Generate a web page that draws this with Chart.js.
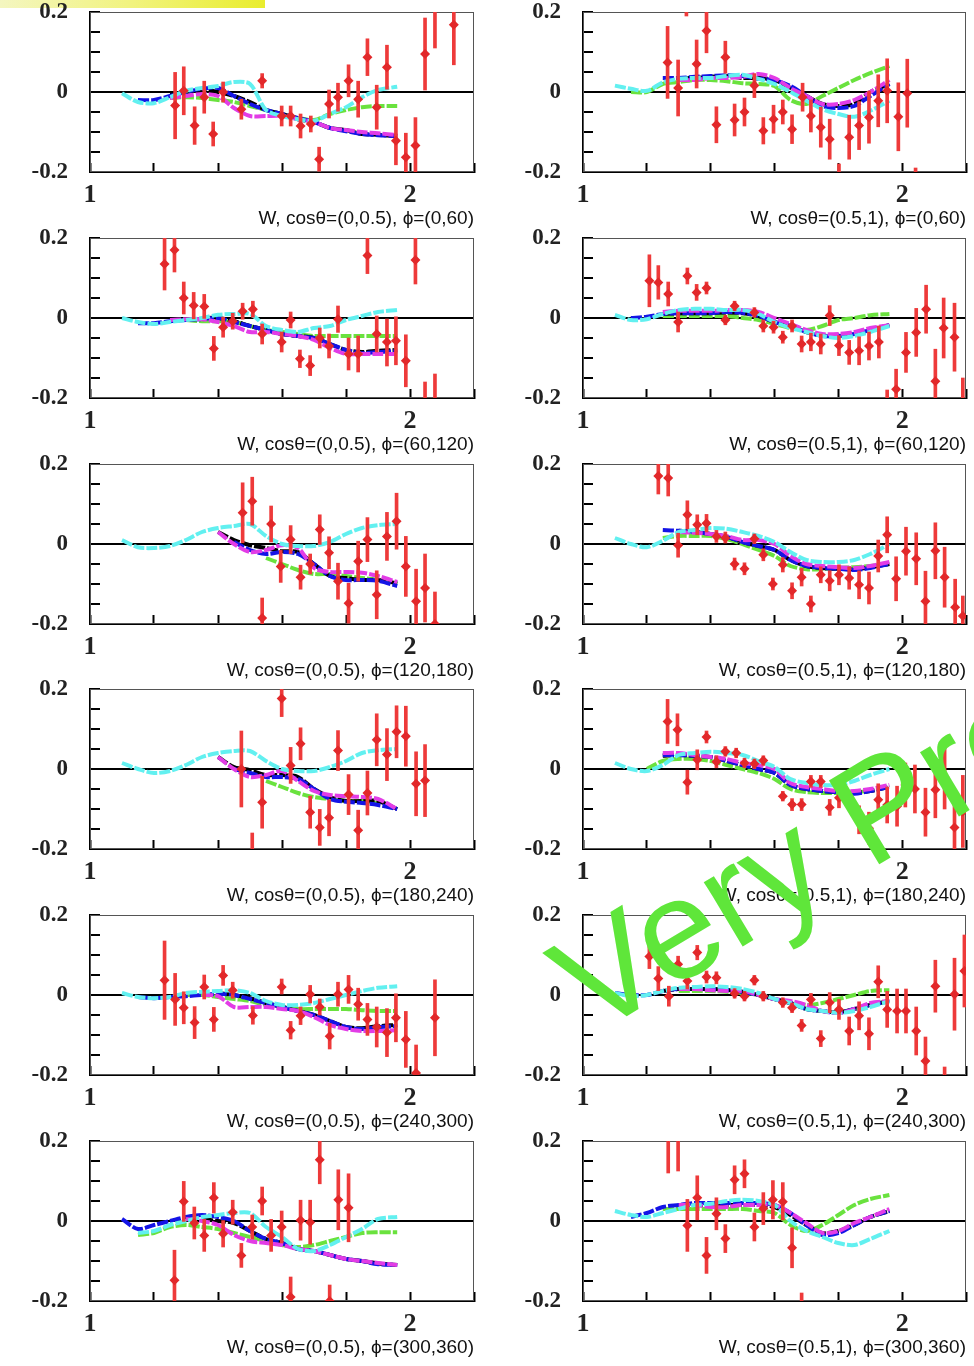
<!DOCTYPE html>
<html>
<head>
<meta charset="utf-8">
<script src="https://cdn.jsdelivr.net/npm/chart.js@4.4.1/dist/chart.umd.min.js"></script>
<style>
  html, body { margin: 0; padding: 0; background: #fff; }
  body { width: 974px; height: 1366px; position: relative; overflow: hidden; }
  .panel { position: absolute; }
  #topbar {
    position: absolute; left: 0; top: 0; width: 265px; height: 8px;
    background: linear-gradient(to right, #f4f6c0 0%, #f1f37e 50%, #e9ed2e 100%);
  }
  #overlay { position: absolute; left: 0; top: 0; pointer-events: none; }
</style>
</head>
<body>
<div id="topbar"></div>
<div id="panels"></div>
<svg id="overlay" width="974" height="1366">
  <text x="592" y="1037" transform="rotate(-31 592 1037)" font-family="Liberation Sans, Arial, sans-serif"
        font-size="142" fill="#5fe63a">Very Preliminary</text>
</svg>
<script>
const W_GRID = [1.10, 1.15, 1.20, 1.25, 1.30, 1.35, 1.40, 1.45, 1.50, 1.55, 1.60, 1.65, 1.70, 1.75, 1.80, 1.85, 1.90, 1.96];

const panelTitles = [
  'W, cosθ=(0,0.5), ϕ=(0,60)',    'W, cosθ=(0.5,1), ϕ=(0,60)',
  'W, cosθ=(0,0.5), ϕ=(60,120)',  'W, cosθ=(0.5,1), ϕ=(60,120)',
  'W, cosθ=(0,0.5), ϕ=(120,180)', 'W, cosθ=(0.5,1), ϕ=(120,180)',
  'W, cosθ=(0,0.5), ϕ=(180,240)', 'W, cosθ=(0.5,1), ϕ=(180,240)',
  'W, cosθ=(0,0.5), ϕ=(240,300)', 'W, cosθ=(0.5,1), ϕ=(240,300)',
  'W, cosθ=(0,0.5), ϕ=(300,360)', 'W, cosθ=(0.5,1), ϕ=(300,360)'
];

// measured points: W, value, error
const dataW = [
  [1.266,1.293,1.327,1.357,1.385,1.416,1.473,1.538,1.599,1.627,1.658,1.69,1.716,1.747,1.775,1.808,1.838,1.867,1.896,1.928,1.956,1.987,2.017,2.047,2.078,2.137],
  [1.265,1.298,1.324,1.356,1.387,1.418,1.446,1.475,1.506,1.537,1.565,1.597,1.626,1.655,1.688,1.714,1.745,1.773,1.802,1.834,1.865,1.896,1.925,1.953,1.988,2.016,2.042],
  [1.233,1.264,1.293,1.324,1.357,1.387,1.416,1.446,1.477,1.509,1.538,1.599,1.627,1.656,1.688,1.718,1.747,1.775,1.808,1.838,1.867,1.896,1.928,1.956,1.987,2.017,2.047,2.078],
  [1.208,1.236,1.267,1.298,1.327,1.356,1.387,1.446,1.475,1.537,1.565,1.597,1.626,1.655,1.685,1.714,1.745,1.773,1.802,1.834,1.865,1.896,1.927,1.953,1.981,2.012,2.044,2.075,2.104,2.13,2.164,2.19],
  [1.477,1.507,1.538,1.566,1.596,1.627,1.658,1.688,1.718,1.747,1.775,1.808,1.838,1.867,1.896,1.928,1.958,1.987,2.019,2.047,2.078],
  [1.236,1.267,1.298,1.327,1.358,1.387,1.418,1.446,1.475,1.506,1.537,1.565,1.595,1.626,1.655,1.685,1.714,1.745,1.773,1.802,1.834,1.865,1.896,1.925,1.953,1.981,2.012,2.044,2.073,2.104,2.133,2.166,2.19],
  [1.473,1.507,1.538,1.599,1.627,1.658,1.688,1.718,1.747,1.775,1.808,1.838,1.867,1.896,1.928,1.958,1.987,2.019,2.047],
  [1.265,1.296,1.327,1.358,1.387,1.418,1.446,1.48,1.506,1.537,1.565,1.626,1.655,1.685,1.714,1.745,1.773,1.802,1.865,1.896,1.925,1.953,1.984,2.01,2.04,2.073,2.104,2.133,2.164,2.19],
  [1.233,1.266,1.293,1.327,1.357,1.387,1.416,1.446,1.509,1.599,1.627,1.658,1.688,1.718,1.749,1.775,1.808,1.838,1.867,1.896,1.928,1.956,1.987,2.019,2.078],
  [1.208,1.236,1.269,1.298,1.327,1.358,1.387,1.418,1.475,1.506,1.537,1.565,1.626,1.655,1.685,1.714,1.745,1.773,1.802,1.834,1.865,1.896,1.925,1.953,1.984,2.012,2.044,2.073,2.104,2.133,2.164,2.195],
  [1.264,1.293,1.326,1.357,1.387,1.416,1.446,1.473,1.507,1.538,1.566,1.599,1.627,1.658,1.688,1.718,1.749,1.776,1.808],
  [1.267,1.298,1.327,1.358,1.387,1.418,1.446,1.475,1.506,1.537,1.565,1.595,1.626,1.655,1.685]
];
const dataY = [
  [-0.034,0.003,-0.084,-0.013,-0.105,0.0,-0.043,0.028,-0.06,-0.06,-0.085,-0.08,-0.168,-0.03,-0.013,0.028,-0.018,0.087,-0.038,0.062,-0.122,-0.163,-0.134,0.095,0.22,0.168],
  [0.074,0.01,0.23,0.07,0.153,-0.082,0.087,-0.07,-0.05,0.016,-0.097,-0.068,-0.05,-0.093,-0.013,-0.06,-0.088,-0.118,-0.22,-0.113,-0.084,-0.063,-0.022,0.003,-0.062,-0.003,-0.24],
  [0.135,0.17,0.05,0.031,0.029,-0.076,-0.023,-0.008,0.017,0.022,-0.04,-0.06,-0.005,-0.102,-0.119,-0.05,-0.07,-0.003,-0.09,-0.09,0.156,-0.04,-0.06,-0.057,-0.107,0.145,-0.22,-0.21],
  [0.093,0.089,0.06,-0.01,0.105,0.064,0.075,-0.005,0.03,0.014,-0.02,-0.023,-0.048,-0.02,-0.065,-0.06,-0.065,0.006,-0.069,-0.086,-0.082,-0.07,-0.06,-0.22,-0.178,-0.086,-0.036,0.022,-0.158,-0.025,-0.048,-0.22],
  [0.078,0.107,-0.185,0.05,-0.056,0.011,-0.083,-0.05,0.036,-0.022,-0.093,-0.148,-0.043,0.011,-0.127,0.019,0.057,-0.056,-0.143,-0.11,-0.2],
  [0.17,0.165,-0.003,0.073,0.048,0.052,0.019,0.015,-0.05,-0.062,0.013,-0.027,-0.1,-0.052,-0.117,-0.083,-0.15,-0.077,-0.092,-0.077,-0.085,-0.102,-0.11,-0.03,0.023,-0.087,-0.018,-0.037,-0.143,-0.017,-0.083,-0.158,-0.18],
  [0.0,-0.21,-0.083,0.176,0.009,0.063,-0.108,-0.146,-0.122,0.046,-0.064,-0.153,-0.06,0.073,0.036,0.093,0.082,-0.037,-0.029],
  [0.119,0.098,-0.033,0.023,0.08,0.018,0.044,0.04,0.015,0.013,0.021,-0.068,-0.089,-0.089,-0.031,-0.031,-0.096,-0.072,-0.127,-0.148,-0.077,-0.09,-0.093,-0.04,-0.05,-0.108,-0.052,-0.02,-0.146,-0.106],
  [0.037,-0.011,-0.032,-0.069,0.02,-0.061,0.049,0.012,-0.051,0.02,-0.088,-0.052,0.002,-0.03,-0.103,0.002,0.014,-0.023,-0.061,-0.08,-0.094,-0.057,-0.111,-0.195,-0.057],
  [0.096,0.041,-0.003,0.077,0.035,0.106,0.045,0.043,0.004,-0.003,0.037,-0.003,-0.019,-0.032,-0.076,-0.011,-0.109,-0.019,-0.036,-0.09,-0.052,-0.097,0.033,-0.036,-0.04,-0.04,-0.09,-0.165,0.022,-0.21,0.002,0.06],
  [-0.148,0.049,-0.005,-0.036,0.058,-0.032,0.022,-0.086,-0.015,0.05,-0.036,-0.015,-0.19,0.002,-0.003,0.153,-0.2,0.053,0.033],
  [0.21,0.21,-0.011,0.058,-0.086,0.018,-0.044,0.103,0.118,-0.015,0.031,0.053,0.048,-0.067,-0.22]
];
const dataErr = [
  [0.083,0.06,0.047,0.04,0.03,0.025,0.025,0.018,0.025,0.025,0.03,0.02,0.03,0.035,0.035,0.04,0.045,0.046,0.055,0.055,0.06,0.06,0.07,0.09,0.11,0.1],
  [0.09,0.07,0.04,0.06,0.055,0.045,0.04,0.04,0.035,0.03,0.033,0.035,0.03,0.036,0.035,0.04,0.05,0.05,0.04,0.055,0.06,0.065,0.065,0.08,0.085,0.085,0.05],
  [0.065,0.055,0.04,0.033,0.03,0.03,0.025,0.02,0.02,0.02,0.025,0.025,0.02,0.022,0.025,0.025,0.03,0.033,0.04,0.045,0.045,0.045,0.06,0.06,0.065,0.06,0.06,0.07],
  [0.065,0.042,0.03,0.025,0.02,0.02,0.015,0.012,0.012,0.012,0.015,0.015,0.015,0.015,0.02,0.022,0.025,0.025,0.025,0.03,0.035,0.035,0.04,0.04,0.05,0.05,0.06,0.06,0.08,0.075,0.085,0.07],
  [0.075,0.06,0.05,0.045,0.04,0.035,0.03,0.025,0.037,0.04,0.045,0.05,0.05,0.055,0.06,0.06,0.07,0.075,0.08,0.085,0.08],
  [0.045,0.045,0.03,0.035,0.025,0.022,0.015,0.015,0.015,0.015,0.012,0.015,0.015,0.018,0.02,0.022,0.02,0.02,0.025,0.025,0.028,0.035,0.04,0.04,0.045,0.055,0.06,0.065,0.075,0.07,0.075,0.07,0.05],
  [0.095,0.05,0.065,0.045,0.045,0.04,0.04,0.045,0.045,0.05,0.05,0.05,0.055,0.065,0.065,0.065,0.075,0.08,0.09],
  [0.055,0.04,0.03,0.025,0.015,0.015,0.012,0.012,0.012,0.012,0.012,0.012,0.015,0.015,0.015,0.015,0.02,0.025,0.035,0.04,0.04,0.045,0.05,0.055,0.06,0.06,0.07,0.08,0.07,0.09],
  [0.098,0.065,0.04,0.04,0.03,0.03,0.025,0.02,0.022,0.02,0.022,0.022,0.022,0.02,0.032,0.03,0.035,0.04,0.04,0.05,0.06,0.06,0.07,0.07,0.095],
  [0.03,0.03,0.025,0.02,0.02,0.018,0.015,0.015,0.012,0.012,0.012,0.012,0.012,0.012,0.015,0.015,0.02,0.025,0.025,0.035,0.035,0.04,0.04,0.045,0.055,0.055,0.06,0.06,0.065,0.03,0.09,0.09],
  [0.075,0.05,0.04,0.04,0.038,0.033,0.03,0.03,0.03,0.035,0.04,0.04,0.05,0.05,0.055,0.06,0.04,0.075,0.085],
  [0.09,0.085,0.065,0.055,0.045,0.04,0.035,0.035,0.035,0.035,0.04,0.048,0.048,0.05,0.04]
];

// model curves on W_GRID (null = not drawn there)
const cyanModel = [
  [-0.003,-0.025,-0.028,-0.013,0.003,0.01,0.015,0.025,0.02,-0.045,-0.06,-0.068,-0.072,-0.055,-0.038,-0.013,0.005,0.013],
  [0.016,0.008,0.003,0.024,0.033,0.035,0.035,0.04,0.043,0.033,0.02,0.0,-0.022,-0.043,-0.055,-0.062,-0.047,-0.022],
  [0.0,-0.01,-0.015,-0.01,-0.005,0.0,0.008,0.01,0.01,-0.02,-0.03,-0.035,-0.025,-0.02,-0.005,0.005,0.015,0.02],
  [0.008,-0.005,-0.003,0.01,0.02,0.023,0.023,0.02,0.02,0.01,-0.01,-0.025,-0.035,-0.045,-0.05,-0.045,-0.035,-0.02],
  [0.01,-0.008,-0.01,-0.005,0.01,0.03,0.04,0.045,0.05,0.02,0.0,-0.005,-0.005,0.005,0.025,0.04,0.047,0.05],
  [0.015,0.0,-0.008,0.008,0.03,0.035,0.04,0.038,0.03,0.02,0.005,-0.02,-0.04,-0.045,-0.045,-0.04,-0.025,0.0],
  [0.015,0.0,-0.01,-0.005,0.01,0.03,0.04,0.045,0.045,0.02,0.0,-0.005,-0.005,0.005,0.02,0.04,0.047,0.05],
  [0.015,0.0,-0.005,0.01,0.035,0.04,0.043,0.04,0.035,0.02,0.005,-0.025,-0.035,-0.04,-0.04,-0.03,-0.015,0.0],
  [0.005,-0.005,-0.008,-0.005,0.005,0.008,0.01,0.012,0.005,-0.015,-0.025,-0.025,-0.02,-0.01,0.0,0.01,0.018,0.022],
  [0.005,-0.003,0.0,0.01,0.018,0.02,0.022,0.02,0.015,0.005,-0.01,-0.02,-0.035,-0.04,-0.045,-0.04,-0.03,-0.015],
  [null,-0.03,-0.025,-0.01,0.0,0.01,0.015,0.02,0.02,-0.015,-0.04,-0.07,-0.075,-0.06,-0.04,-0.02,0.005,0.01],
  [0.025,0.015,0.01,0.02,0.03,0.04,0.043,0.05,0.053,0.05,0.04,0.0,-0.025,-0.04,-0.055,-0.06,-0.045,-0.025]
];
const magentaModel = [
  [null,null,null,-0.015,-0.01,-0.005,-0.01,-0.04,-0.06,-0.06,-0.06,-0.068,-0.075,-0.09,-0.095,-0.1,-0.103,-0.108],
  [null,null,null,null,0.03,0.03,0.035,0.035,0.038,0.045,0.035,0.01,-0.01,-0.03,-0.03,-0.02,0.0,0.03],
  [null,null,null,-0.005,-0.003,-0.003,-0.01,-0.02,-0.035,-0.035,-0.04,-0.045,-0.055,-0.075,-0.09,-0.09,-0.09,-0.09],
  [null,null,null,0.015,0.018,0.018,0.018,0.02,0.02,0.015,0.0,-0.015,-0.03,-0.04,-0.04,-0.035,-0.025,-0.018],
  [null,null,null,null,null,null,0.03,0.0,-0.02,-0.015,-0.003,-0.01,-0.06,-0.07,-0.07,-0.072,-0.08,-0.095],
  [null,null,null,null,0.03,0.028,0.025,0.02,0.01,0.01,0.0,-0.03,-0.05,-0.055,-0.058,-0.06,-0.055,-0.045],
  [null,null,null,null,null,null,0.03,0.0,-0.02,-0.015,-0.005,-0.03,-0.055,-0.065,-0.068,-0.07,-0.075,-0.1],
  [null,null,null,0.04,0.04,0.035,0.03,0.025,0.015,0.01,0.0,-0.035,-0.045,-0.05,-0.055,-0.055,-0.05,-0.04],
  [null,null,null,null,null,0.0,-0.003,-0.03,-0.03,-0.03,-0.035,-0.04,-0.055,-0.075,-0.085,-0.09,-0.09,-0.088],
  [null,null,null,null,0.015,0.015,0.012,0.01,0.01,0.0,-0.01,-0.015,-0.025,-0.04,-0.045,-0.035,-0.02,-0.015],
  [null,null,null,null,0.005,0.0,-0.01,-0.035,-0.05,-0.055,-0.06,-0.07,-0.075,-0.085,-0.095,-0.1,-0.105,-0.11],
  [null,null,null,null,0.04,0.04,0.035,0.035,0.04,0.04,0.04,0.02,-0.005,-0.03,-0.025,-0.005,0.01,0.03]
];
const blueModel = [
  [null,-0.02,-0.02,-0.01,0.0,0.008,0.01,-0.01,-0.03,-0.045,-0.055,-0.065,-0.075,-0.09,-0.098,-0.105,-0.108,-0.11],
  [null,null,null,0.035,0.035,0.038,0.04,0.042,0.04,0.033,0.03,0.015,-0.01,-0.035,-0.04,-0.035,-0.01,0.02],
  [null,-0.013,-0.013,-0.008,-0.005,-0.003,0.0,-0.01,-0.02,-0.03,-0.04,-0.045,-0.05,-0.065,-0.08,-0.088,-0.085,-0.083],
  [null,0.0,0.003,0.01,0.012,0.012,0.012,0.015,0.013,0.005,-0.01,-0.02,-0.035,-0.045,-0.045,-0.04,-0.03,-0.018],
  [null,null,null,null,null,null,null,0.005,-0.015,-0.025,-0.02,-0.025,-0.05,-0.08,-0.09,-0.09,-0.092,-0.105],
  [null,null,null,0.035,0.033,0.03,0.025,0.018,0.005,-0.005,-0.015,-0.04,-0.055,-0.06,-0.062,-0.065,-0.06,-0.05],
  [null,null,null,null,null,null,null,0.0,-0.01,-0.02,-0.02,-0.025,-0.05,-0.075,-0.082,-0.085,-0.09,-0.1],
  [null,null,null,0.035,0.035,0.033,0.03,0.02,0.01,0.0,-0.01,-0.04,-0.05,-0.055,-0.058,-0.062,-0.055,-0.045],
  [null,-0.005,-0.008,-0.005,-0.003,0.0,0.003,0.0,-0.01,-0.02,-0.03,-0.04,-0.05,-0.065,-0.08,-0.085,-0.08,-0.078],
  [0.005,0.0,0.0,0.01,0.015,0.015,0.015,0.013,0.008,0.0,-0.01,-0.02,-0.035,-0.04,-0.045,-0.035,-0.025,-0.015],
  [0.005,-0.02,-0.01,0.0,0.01,0.015,0.01,0.0,-0.025,-0.045,-0.055,-0.07,-0.075,-0.085,-0.095,-0.1,-0.108,-0.11],
  [null,0.01,0.02,0.035,0.04,0.045,0.045,0.045,0.045,0.045,0.04,0.02,-0.01,-0.035,-0.03,-0.01,0.01,0.025]
];
const blackModel = [
  [null,null,null,-0.005,0.0,0.005,0.0,-0.01,-0.025,-0.045,-0.055,-0.068,-0.075,-0.09,-0.095,-0.105,-0.107,-0.11],
  [null,null,null,null,0.035,0.035,0.038,0.04,0.035,0.035,0.03,0.01,-0.01,-0.03,-0.035,-0.03,0.0,0.02],
  [null,null,null,null,null,0.0,0.0,-0.008,-0.02,-0.03,-0.04,-0.045,-0.05,-0.065,-0.08,-0.085,-0.082,-0.08],
  [null,null,null,0.01,0.012,0.012,0.012,0.014,0.012,0.005,-0.01,-0.02,-0.035,-0.044,-0.044,-0.04,-0.03,-0.018],
  [null,null,null,null,null,null,0.03,0.01,-0.003,-0.01,-0.018,-0.02,-0.05,-0.08,-0.085,-0.09,-0.09,-0.098],
  [null,null,null,null,0.033,0.03,0.025,0.018,0.005,-0.005,-0.015,-0.04,-0.055,-0.06,-0.062,-0.063,-0.058,-0.05],
  [null,null,null,null,null,null,0.03,0.005,-0.003,-0.015,-0.015,-0.02,-0.05,-0.07,-0.08,-0.08,-0.08,-0.1],
  [null,null,null,0.033,0.035,0.033,0.03,0.02,0.01,0.0,-0.01,-0.04,-0.05,-0.055,-0.058,-0.06,-0.055,-0.045],
  [null,null,null,null,null,null,0.005,0.0,-0.008,-0.02,-0.03,-0.04,-0.05,-0.065,-0.08,-0.083,-0.078,-0.075],
  [null,null,null,0.01,0.015,0.015,0.015,0.013,0.008,0.0,-0.01,-0.02,-0.035,-0.04,-0.043,-0.035,-0.025,-0.015],
  [null,null,null,null,null,0.005,0.0,-0.005,-0.025,-0.045,-0.055,-0.07,-0.075,-0.085,-0.095,-0.1,-0.106,-0.11],
  [null,null,null,null,0.04,0.04,0.04,0.04,0.04,0.04,0.035,0.015,-0.01,-0.03,-0.025,-0.01,0.01,0.025]
];
const greenModel = [
  [null,null,null,-0.015,-0.013,-0.015,-0.02,-0.025,-0.035,-0.045,-0.055,-0.065,-0.07,-0.055,-0.045,-0.038,-0.035,-0.035],
  [null,0.0,0.0,0.02,0.025,0.03,0.03,0.027,0.022,0.02,0.015,-0.02,-0.03,-0.01,0.01,0.03,0.047,0.065],
  [null,null,null,null,-0.005,-0.008,-0.008,-0.01,-0.02,-0.03,-0.035,-0.04,-0.045,-0.045,-0.045,-0.045,-0.045,-0.045],
  [null,null,null,0.005,0.005,0.005,0.005,0.005,0.0,-0.005,-0.015,-0.025,-0.03,-0.02,-0.005,0.0,0.007,0.01],
  [null,null,null,null,null,null,null,null,null,-0.035,-0.05,-0.065,-0.075,-0.075,-0.08,-0.085,-0.09,-0.1],
  [null,null,null,0.015,0.02,0.02,0.02,0.012,0.0,-0.015,-0.03,-0.055,-0.063,-0.063,-0.06,-0.058,-0.055,-0.05],
  [null,null,null,null,null,null,null,null,null,-0.03,-0.045,-0.06,-0.07,-0.075,-0.08,-0.08,-0.085,null],
  [null,null,0.0,0.02,0.025,0.025,0.02,0.01,0.0,-0.01,-0.025,-0.05,-0.058,-0.06,-0.06,-0.058,-0.055,null],
  [null,null,null,null,0.0,0.0,-0.005,-0.01,-0.015,-0.025,-0.03,-0.035,-0.035,-0.035,-0.035,-0.038,-0.04,-0.04],
  [null,null,null,null,0.01,0.01,0.01,0.008,0.005,0.0,-0.01,-0.02,-0.025,-0.02,-0.01,0.0,0.01,0.012],
  [null,-0.035,-0.03,-0.015,-0.01,-0.015,-0.02,-0.03,-0.04,-0.05,-0.06,-0.065,-0.06,-0.05,-0.04,-0.03,-0.028,-0.028],
  [null,null,null,0.03,0.03,0.03,0.03,0.03,0.03,0.025,0.02,-0.01,-0.025,-0.01,0.015,0.04,0.055,0.065]
];

const RED = '#e2282a';
const RED_BAR = '#ee3a3a';
const PLOT_TOP = [12, 238, 464, 689, 915, 1141];

const framePlugin = {
  id: 'frame',
  beforeDatasetsDraw(chart) {
    const { ctx, chartArea: a } = chart;
    ctx.save();
    ctx.strokeStyle = '#555';
    ctx.lineWidth = 1;
    ctx.strokeRect(a.left + 0.5, a.top + 0.5, a.width - 1, a.height - 1);
    ctx.restore();
  }
};

// model curves look like short stepped dashes in the original
function curve(values, color) {
  return {
    type: 'line',
    data: W_GRID.map((w, k) => ({ x: w, y: values[k] })),
    borderColor: color,
    borderWidth: 4,
    borderDash: [11, 2],
    pointRadius: 0,
    tension: 0.3,
    fill: false,
    spanGaps: false
  };
}

function near(v, t) {
  return Math.abs(v - t) < 1e-6;
}

function makePanel(i) {
  const col = i % 2;
  const row = Math.floor(i / 2);
  const canvas = document.createElement('canvas');
  canvas.width = col ? 482 : 480;
  canvas.height = 232;
  canvas.className = 'panel';
  canvas.style.left = (col ? 490 : 0) + 'px';
  canvas.style.top = (PLOT_TOP[row] - 14) + 'px';
  document.getElementById('panels').appendChild(canvas);

  const points = dataW[i].map((w, k) => ({ x: w, y: dataY[i][k] }));
  const bars = dataW[i].map((w, k) => ({ x: w, y: [dataY[i][k] - dataErr[i][k], dataY[i][k] + dataErr[i][k]] }));

  new Chart(canvas, {
    type: 'scatter',
    data: {
      datasets: [
        { type: 'scatter', data: points, pointStyle: 'rectRot', pointRadius: 5, backgroundColor: RED, borderWidth: 0 },
        { type: 'bar', data: bars, backgroundColor: RED_BAR, barThickness: 3, grouped: false, borderWidth: 0 },
        curve(cyanModel[i], '#62f0f0'),
        curve(magentaModel[i], '#e23ce6'),
        curve(blueModel[i], '#1414e6'),
        curve(blackModel[i], '#000000'),
        curve(greenModel[i], '#6ae23e')
      ]
    },
    options: {
      responsive: false,
      animation: false,
      layout: { padding: { top: 14, right: 6, left: 0, bottom: 0 } },
      plugins: { legend: { display: false }, tooltip: { enabled: false } },
      scales: {
        x: {
          type: 'linear',
          min: 1,
          max: 2.2,
          offset: false,
          afterFit: (s) => { s.height = 58; s.paddingLeft = 0; s.paddingRight = 0; },
          border: { color: '#000', width: 2 },
          grid: { drawOnChartArea: false, offset: false, tickLength: -9, tickColor: '#000', tickWidth: 2 },
          ticks: {
            stepSize: 0.2,
            autoSkip: false,
            maxRotation: 0,
            padding: 17,
            color: '#222',
            font: { family: 'Liberation Serif', size: 26, weight: 'bold' },
            callback: (v) => (near(v, 1) ? '1' : near(v, 2) ? '2' : '')
          },
          title: {
            display: true,
            text: panelTitles[i],
            align: 'end',
            color: '#111',
            font: { family: 'Liberation Sans', size: 19 },
            padding: { top: 0, bottom: 0 }
          }
        },
        y: {
          type: 'linear',
          min: -0.2,
          max: 0.2,
          afterFit: (s) => { s.width = col ? 93 : 90; s.paddingTop = 0; s.paddingBottom = 0; },
          border: { color: '#000', width: 2 },
          grid: {
            drawOnChartArea: true,
            color: (ctx) => (ctx.tick && near(ctx.tick.value, 0) ? '#000' : 'rgba(0,0,0,0)'),
            lineWidth: (ctx) => (ctx.tick && near(ctx.tick.value, 0) ? 2 : 0),
            tickLength: -10,
            tickColor: '#000',
            tickWidth: 2
          },
          ticks: {
            stepSize: 0.05,
            autoSkip: false,
            padding: 32,
            color: '#222',
            font: { family: 'Liberation Serif', size: 23, weight: 'bold' },
            callback: (v) => (near(v, 0) ? '0' : near(v, 0.2) ? '0.2' : near(v, -0.2) ? '-0.2' : '')
          }
        }
      }
    },
    plugins: [framePlugin]
  });
}

for (let i = 0; i < 12; i++) {
  makePanel(i);
}
</script>
</body>
</html>
